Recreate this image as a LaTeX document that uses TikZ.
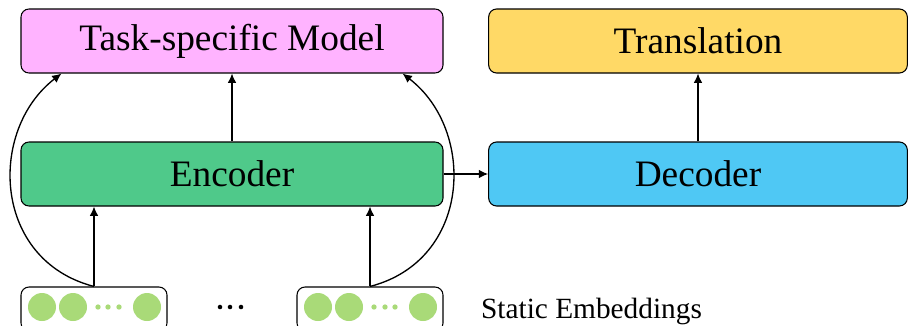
\documentclass[tikz,border=0pt]{standalone}
\usepackage{fontspec}
\setmainfont{Liberation Serif}
\usetikzlibrary{arrows.meta,calc,positioning}

\definecolor{taskpink}{HTML}{FFB3FF}
\definecolor{transyellow}{HTML}{FFD966}
\definecolor{encgreen}{HTML}{4FC98A}
\definecolor{decblue}{HTML}{4FC8F4}
\definecolor{embgreen}{HTML}{A9DA78}

\tikzset{
    block/.style={draw, line width=0.8pt, rounded corners=6pt, inner sep=0pt,
        minimum width=316.5pt, minimum height=48pt, font=\fontsize{28}{32}\selectfont},
    embbox/.style={draw, line width=0.8pt, rounded corners=6pt, inner sep=0pt,
        minimum width=109.5pt, minimum height=33pt},
}

\begin{document}
\begin{tikzpicture}[x=0.75pt, y=-0.75pt, >={Latex[length=7pt,width=6.5pt]}, line width=1pt]
    \useasboundingbox (0,0) rectangle (909,325);

    \node[block, fill=taskpink] (task) at (232,41) {Task-specific Model};
    \node[block, fill=transyellow, minimum width=314pt] (trans) at (698,41) {Translation};
    \node[block, fill=encgreen] (enc) at (232,174) {Encoder};
    \node[block, fill=decblue, minimum width=314pt] (dec) at (698,174) {Decoder};

    \node[embbox] (emb1) at (94,309) {};
    \node[embbox] (emb2) at (370,309) {};

    % embedding vectors
    \foreach \x in {42,73,147,318,349,423}
        \fill[embgreen] (\x,307) circle (10.5pt);
    \foreach \x in {98,108,119,374,385,395}
        \fill[embgreen] (\x,307) circle (2pt);
    \foreach \x in {220,230,241}
        \fill (\x,307) circle (1.7pt);

    \node[anchor=west, font=\fontsize{22}{26}\selectfont] (static) at (476,311) {Static Embeddings};

    \draw[->] (enc.north) -- (task.south);
    \draw[->] (dec.north) -- (trans.south);
    \draw[->] (enc.east) -- (dec.west);
    \draw[->] (emb1.north) -- (emb1.north |- enc.south);
    \draw[->] (emb2.north) -- (emb2.north |- enc.south);

    \draw[->] (emb1.north) .. controls (-8,260) and (-12,130) .. ($(task.south west)+(41,0)$);
    \draw[->] (emb2.north) .. controls (472,260) and (476,130) .. ($(task.south east)+(-41,0)$);

\end{tikzpicture}
\end{document}
